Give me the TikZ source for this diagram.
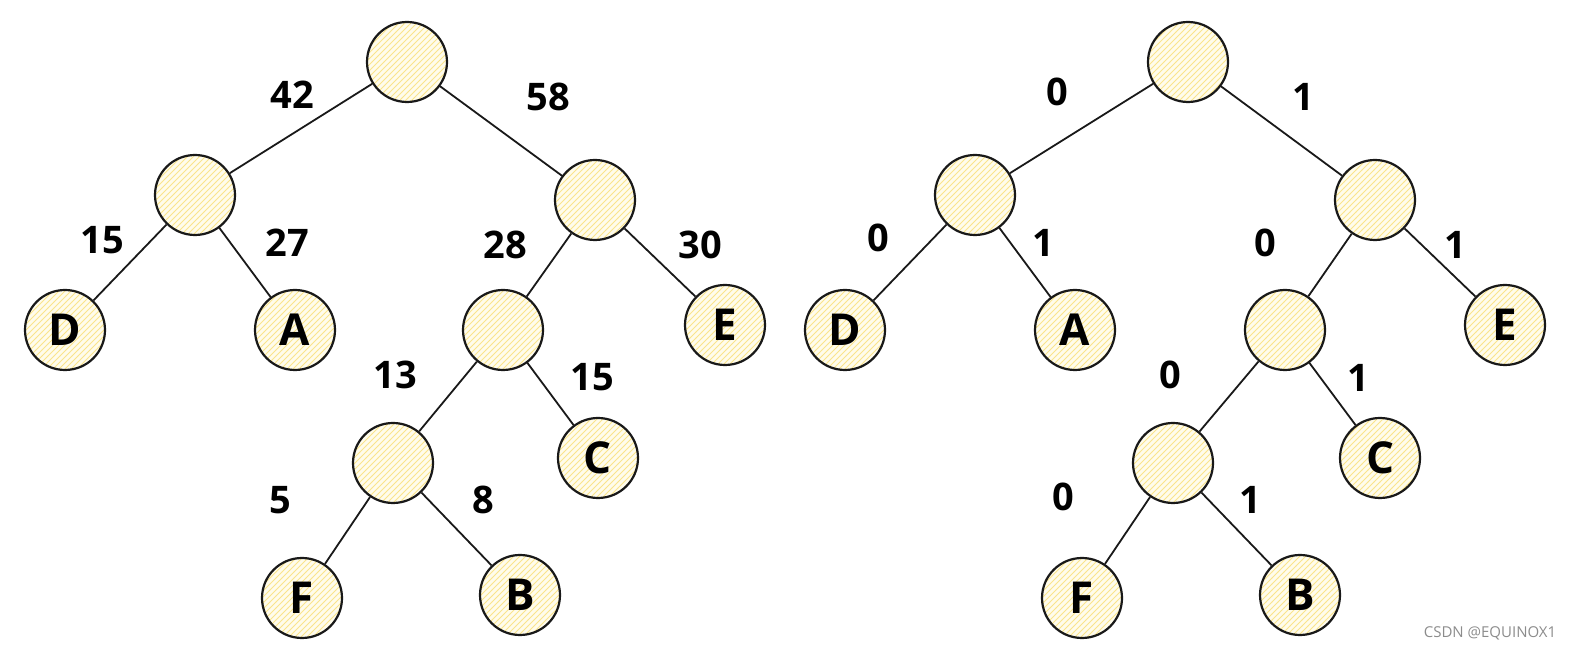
\documentclass[tikz,border=0pt]{standalone}
\usepackage{fontspec}
\setmainfont{Open Sans}
\usetikzlibrary{patterns}
\definecolor{huffyellow}{RGB}{255,252,236}
\definecolor{hatchyellow}{RGB}{250,228,140}
\tikzstyle{every picture}=[x=0.5pt,y=-0.5pt]
\tikzstyle{huff}=[circle, draw=black!90, line width=1.1pt, minimum size=40pt, inner sep=0pt,
                  preaction={fill=huffyellow}, pattern=north east lines, pattern color=hatchyellow,
                  font=\fontsize{22}{24}\selectfont\bfseries]
\tikzstyle{weight}=[draw=none, inner sep=1pt, font=\fontsize{19}{22}\selectfont\bfseries]
\tikzstyle{branch}=[line width=0.9pt, black!90]

\begin{document}
\begin{tikzpicture}
  \useasboundingbox (0,0) rectangle (1584,656);
  % weights
  \node[huff] (root) at (407,62) {};
  \node[huff] (w42) at (195,195) {};
  \node[huff] (w58) at (595,200) {};
  \node[huff] (d) at (65,330) {D};
  \node[huff] (a) at (295,330) {A};
  \node[huff] (w28) at (503,330) {};
  \node[huff] (e) at (725,325) {E};
  \node[huff] (w13) at (393,463) {};
  \node[huff] (c) at (598,458) {C};
  \node[huff] (f) at (302,598) {F};
  \node[huff] (b) at (520,595) {B};
  \draw[branch] (root)--(w42);
  \draw[branch] (root)--(w58);
  \draw[branch] (w42)--(d);
  \draw[branch] (w42)--(a);
  \draw[branch] (w58)--(w28);
  \draw[branch] (w58)--(e);
  \draw[branch] (w28)--(w13);
  \draw[branch] (w28)--(c);
  \draw[branch] (w13)--(f);
  \draw[branch] (w13)--(b);
  \node[weight] (l42) at (292,95) {42};
  \node[weight] (l58) at (548,97) {58};
  \node[weight] (l15a) at (102,240) {15};
  \node[weight] (l27) at (287,243) {27};
  \node[weight] (l28) at (505,245) {28};
  \node[weight] (l30) at (700,245) {30};
  \node[weight] (l13) at (395,375) {13};
  \node[weight] (l15b) at (592,377) {15};
  \node[weight] (l5) at (280,500) {5};
  \node[weight] (l8) at (483,500) {8};
  % codes
  \node[huff] (croot) at (1188,62) {};
  \node[huff] (cl) at (975,195) {};
  \node[huff] (cr) at (1375,200) {};
  \node[huff] (cd) at (845,330) {D};
  \node[huff] (ca) at (1075,330) {A};
  \node[huff] (crl) at (1285,330) {};
  \node[huff] (ce) at (1505,325) {E};
  \node[huff] (crll) at (1173,463) {};
  \node[huff] (cc) at (1380,458) {C};
  \node[huff] (cf) at (1082,598) {F};
  \node[huff] (cb) at (1300,595) {B};
  \draw[branch] (croot)--(cl);
  \draw[branch] (croot)--(cr);
  \draw[branch] (cl)--(cd);
  \draw[branch] (cl)--(ca);
  \draw[branch] (cr)--(crl);
  \draw[branch] (cr)--(ce);
  \draw[branch] (crl)--(crll);
  \draw[branch] (crl)--(cc);
  \draw[branch] (crll)--(cf);
  \draw[branch] (crll)--(cb);
  \node[weight] (b1) at (1057,92) {0};
  \node[weight] (b2) at (1303,97) {1};
  \node[weight] (b3) at (878,238) {0};
  \node[weight] (b4) at (1043,243) {1};
  \node[weight] (b5) at (1265,243) {0};
  \node[weight] (b6) at (1455,245) {1};
  \node[weight] (b7) at (1170,375) {0};
  \node[weight] (b8) at (1358,378) {1};
  \node[weight] (b9) at (1063,497) {0};
  \node[weight] (b10) at (1250,500) {1};
  \node[draw=none, text=black!45, font=\fontsize{7.5}{9}\selectfont] (mark) at (1490,633) {CSDN @EQUINOX1};
\end{tikzpicture}
\end{document}
